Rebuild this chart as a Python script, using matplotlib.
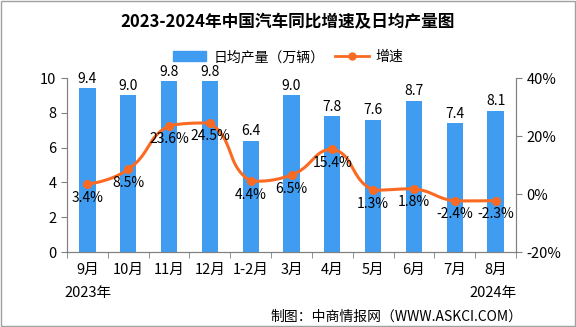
import matplotlib
matplotlib.use("Agg")
import matplotlib.pyplot as plt
from matplotlib.patches import Rectangle
from matplotlib.lines import Line2D
import numpy as np

plt.rcParams['font.family'] = ['Noto Sans CJK SC', 'DejaVu Sans']

months = ['9月', '10月', '11月', '12月', '1-2月', '3月', '4月', '5月', '6月', '7月', '8月']
daily_output = [9.4, 9.0, 9.8, 9.8, 6.4, 9.0, 7.8, 7.6, 8.7, 7.4, 8.1]
growth = [3.4, 8.5, 23.6, 24.5, 4.4, 6.5, 15.4, 1.3, 1.8, -2.4, -2.3]

bar_color = '#3f9cf0'
line_color = '#fa6a22'
axis_color = '#808080'


def smooth(x, y, sx=40.8, sy=2.9, k=0.5, n=25):
    # bezier smoothing like echarts (control points clamped), in pixel-ish units
    p = np.column_stack([np.asarray(x, float) * sx, np.asarray(y, float) * sy])
    m = len(p)
    cin = p.copy()
    cout = p.copy()
    for i in range(1, m - 1):
        v = (p[i + 1] - p[i - 1]) * k
        d0 = np.linalg.norm(p[i] - p[i - 1])
        d1 = np.linalg.norm(p[i + 1] - p[i])
        cin[i] = p[i] - v * d0 / (d0 + d1)
        cout[i] = p[i] + v * d1 / (d0 + d1)
        cin[i, 1] = np.clip(cin[i, 1], min(p[i - 1, 1], p[i, 1]), max(p[i - 1, 1], p[i, 1]))
        cout[i, 1] = np.clip(cout[i, 1], min(p[i + 1, 1], p[i, 1]), max(p[i + 1, 1], p[i, 1]))
    t = np.linspace(0, 1, n)[:, None]
    pts = []
    for i in range(m - 1):
        a, b, c, d = p[i], cout[i], cin[i + 1], p[i + 1]
        pts.append((1 - t) ** 3 * a + 3 * (1 - t) ** 2 * t * b + 3 * (1 - t) * t ** 2 * c + t ** 3 * d)
    pts = np.vstack(pts)
    return pts[:, 0] / sx, pts[:, 1] / sy


fig = plt.figure(figsize=(5.76, 3.27), dpi=100)
ax = fig.add_axes([67 / 576, 1 - 252 / 327, 449 / 576, 174 / 327])
ax2 = ax.twinx()

x = np.arange(len(months))
ax.bar(x, daily_output, width=0.4, color=bar_color, zorder=2)
for xi, v in zip(x, daily_output):
    ax.text(xi, v + 0.15, f'{v:.1f}', ha='center', va='bottom', fontsize=10)

cx, cy = smooth(x, growth)
ax2.plot(cx, cy, color=line_color, lw=2.2, zorder=3)
ax2.plot(x, growth, 'o', color=line_color, ms=5.5, zorder=4)
for xi, g in zip(x, growth):
    ax2.text(xi, g - 2.2, f'{g:.1f}%', ha='center', va='top', fontsize=10)

ax.set_xlim(-0.5, len(months) - 0.5)
ax.set_ylim(0, 10)
ax.set_yticks([0, 2, 4, 6, 8, 10])
ax2.set_ylim(-20, 40)
ax2.set_yticks([-20, 0, 20, 40])
ax2.set_yticklabels(['-20%', '0%', '20%', '40%'])

ax.set_xticks(x)
ax.set_xticklabels(months)
ax.set_xticks(np.arange(-0.5, len(months)), minor=True)
ax.tick_params(axis='x', which='major', length=0, pad=8, labelsize=10.5)
ax.tick_params(axis='x', which='minor', length=4, color=axis_color)
ax.tick_params(axis='y', length=4, color=axis_color, labelsize=10.5)
ax2.tick_params(axis='y', length=4, color=axis_color, labelsize=10.5)

for a in (ax, ax2):
    a.spines['top'].set_visible(False)
    for s in ('left', 'right', 'bottom'):
        a.spines[s].set_color(axis_color)

fig.text(0.5, 1 - 22 / 327, '2023-2024年中国汽车同比增速及日均产量图',
         ha='center', va='center', fontsize=12, fontweight='bold')

handles = [Rectangle((0, 0), 1, 1, color=bar_color),
           Line2D([0], [0], color=line_color, lw=2, marker='o', ms=5)]
fig.legend(handles, ['日均产量（万辆）', '增速'], loc='center',
           bbox_to_anchor=(0.5, 1 - 57 / 327), ncol=2, frameon=False,
           fontsize=10, handlelength=2.4, columnspacing=0.8, handletextpad=0.5)

fig.text(88 / 576, 1 - 293 / 327, '2023年', ha='center', va='center', fontsize=10.5)
fig.text(493 / 576, 1 - 293 / 327, '2024年', ha='center', va='center', fontsize=10.5)
fig.text(522 / 576, 1 - 317 / 327, '制图：中商情报网（WWW.ASKCI.COM）',
         ha='right', va='center', fontsize=10)

fig.patches.append(Rectangle((0.001, 0.002), 0.997, 0.995, transform=fig.transFigure,
                             fill=False, edgecolor='#a0a0a0', lw=1))

plt.savefig('out.png', dpi=100)
plt.close()
